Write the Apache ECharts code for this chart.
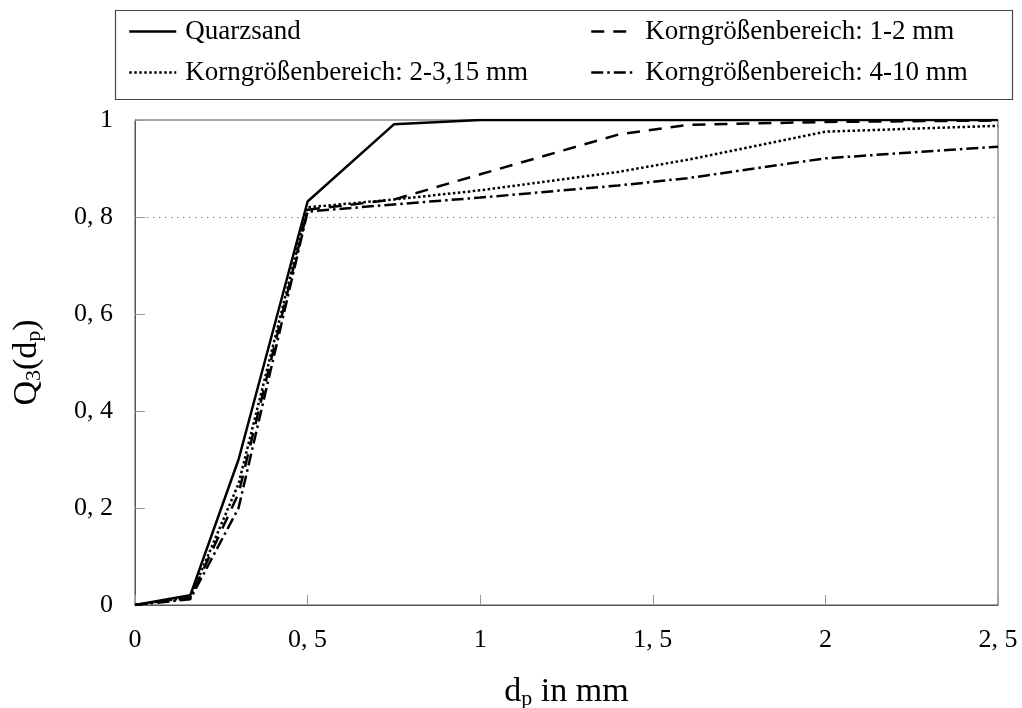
<!DOCTYPE html>
<html>
<head>
<meta charset="utf-8">
<script src="https://cdn.jsdelivr.net/npm/echarts@6/dist/echarts.min.js"></script>
<style>html,body{margin:0;padding:0;background:#fff}#c{width:1022px;height:708px}</style>
</head>
<body>
<div id="c"></div>
<script>
// ---- data ----
const seriesNames = ['Quarzsand', 'Korngrößenbereich: 1-2 mm', 'Korngrößenbereich: 2-3,15 mm', 'Korngrößenbereich: 4-10 mm'];
const quarzsandX = [0, 0.16, 0.3, 0.5, 0.75, 1.0, 1.4, 1.6, 2.0, 2.5];
const quarzsandY = [0, 0.02, 0.30, 0.832, 0.991, 1.0, 1.0, 1.0, 1.0, 1.0];
const k12X = [0, 0.16, 0.3, 0.5, 0.75, 1.0, 1.4, 1.6, 2.0, 2.5];
const k12Y = [0, 0.015, 0.23, 0.815, 0.836, 0.888, 0.970, 0.990, 0.996, 0.999];
const k23X = [0, 0.16, 0.3, 0.5, 0.75, 1.0, 1.4, 1.6, 2.0, 2.5];
const k23Y = [0, 0.016, 0.25, 0.82, 0.836, 0.855, 0.893, 0.918, 0.976, 0.988];
const k410X = [0, 0.16, 0.3, 0.5, 0.75, 1.0, 1.4, 1.6, 2.0, 2.5];
const k410Y = [0, 0.012, 0.20, 0.811, 0.826, 0.840, 0.865, 0.880, 0.921, 0.945];
const refLineY = 0.8;
const xTicks = [0, 0.5, 1, 1.5, 2, 2.5];
const yTicks = [0, 0.2, 0.4, 0.6, 0.8, 1];

function pairs(xs, ys) { return xs.map((x, i) => [x, ys[i]]); }
function fmt(v) {
  const r = Math.round(v * 10) / 10;
  return String(r).replace('.', ', ');
}

const FONT = '"Liberation Serif", "DejaVu Serif", serif';
const styles = [
  { type: 'solid', width: 2.5 },
  { type: [13, 9], width: 2.5 },
  { type: [2.5, 2.5], width: 2.5 },
  { type: [12, 4, 2.5, 4], width: 2.5 }
];
const datasets = [pairs(quarzsandX, quarzsandY), pairs(k12X, k12Y), pairs(k23X, k23Y), pairs(k410X, k410Y)];

const series = seriesNames.map((n, i) => ({
  name: n,
  type: 'line',
  data: datasets[i],
  symbol: 'none',
  showSymbol: false,
  animation: false,
  z: 10 - i,
  lineStyle: { color: '#000', width: styles[i].width, type: styles[i].type },
  itemStyle: { color: '#000' }
}));
series[0].markLine = {
  silent: true,
  symbol: 'none',
  label: { show: false },
  lineStyle: { color: '#888', width: 1, type: [1.5, 4.5] },
  data: [{ yAxis: refLineY }],
  z: 1
};

const legendText = { fontFamily: FONT, fontSize: 27, color: '#000', padding: [0, 0, 0, 4] };
const legendText2 = { fontFamily: FONT, fontSize: 27, color: '#000', padding: [0, 0, 0, 7] };
const chart = echarts.init(document.getElementById('c'), null, { renderer: 'canvas' });
chart.setOption({
  animation: false,
  backgroundColor: '#fff',
  grid: { left: 135, right: 24, top: 120, bottom: 103, show: true, borderColor: '#555', borderWidth: 1, containLabel: false, outerBoundsMode: 'none' },
  legend: [
    { data: [seriesNames[0], seriesNames[2]], orient: 'vertical', left: 123, top: 13, itemWidth: 47, itemHeight: 14, itemGap: 14, textStyle: legendText, itemStyle: { opacity: 0 }, lineStyle: { width: 2.5 } },
    { data: [seriesNames[1], seriesNames[3]], orient: 'vertical', left: 585, top: 13, itemWidth: 42, itemHeight: 14, itemGap: 14, textStyle: legendText2, itemStyle: { opacity: 0 }, lineStyle: { width: 2.5 } }
  ],
  graphic: [{
    type: 'rect', left: 113, top: 8, shape: { width: 897, height: 89 },
    style: { fill: 'none', stroke: '#444', lineWidth: 1.2 }, z: -1
  }],
  xAxis: {
    type: 'value', min: 0, max: 2.5, interval: 0.5,
    axisLine: { lineStyle: { color: '#555', width: 1 } },
    axisTick: { inside: true, length: 10, lineStyle: { color: '#999' } },
    splitLine: { show: false },
    axisLabel: { fontFamily: FONT, fontSize: 26, color: '#000', margin: 22, formatter: fmt },
    name: '{a|d}{s|p}{a| in mm}',
    nameLocation: 'middle', nameGap: 70,
    nameTextStyle: {
      rich: {
        a: { fontFamily: FONT, fontSize: 34, color: '#000' },
        s: { fontFamily: FONT, fontSize: 22, color: '#000', padding: [13, 0, 0, 0] }
      }
    }
  },
  yAxis: {
    type: 'value', min: 0, max: 1, interval: 0.2,
    axisLine: { show: true, lineStyle: { color: '#555', width: 1 } },
    axisTick: { show: true, inside: true, length: 10, lineStyle: { color: '#999' } },
    splitLine: { show: false },
    axisLabel: { fontFamily: FONT, fontSize: 26, color: '#000', margin: 22, formatter: fmt },
    name: '{a|Q}{s|3}{a|(d}{s|p}{a|)}',
    nameLocation: 'middle', nameGap: 90, nameRotate: 90,
    nameTextStyle: {
      rich: {
        a: { fontFamily: FONT, fontSize: 34, color: '#000' },
        s: { fontFamily: FONT, fontSize: 22, color: '#000', padding: [13, 0, 0, 0] }
      }
    }
  },
  series: series
});
</script>
</body>
</html>
